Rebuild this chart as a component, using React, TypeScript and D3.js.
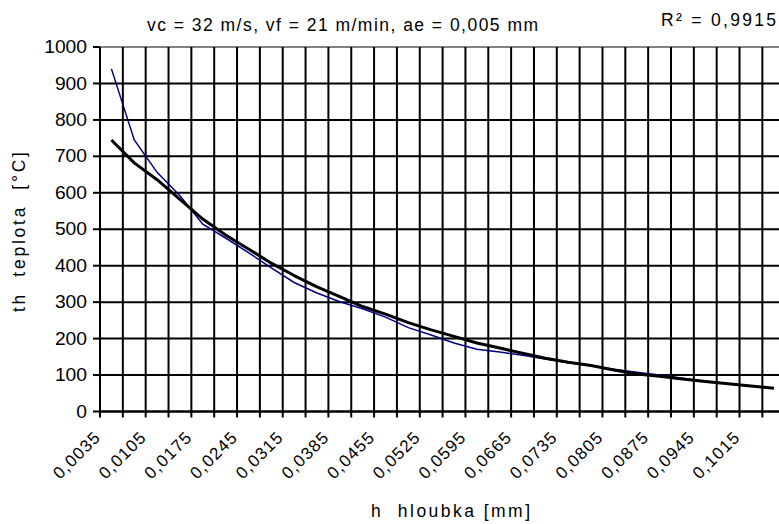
import React from "react";
import * as d3 from "d3";

// Depth categories h [mm]
const depths = [
  0.0035, 0.007, 0.0105, 0.014, 0.0175, 0.021, 0.0245, 0.028, 0.0315, 0.035,
  0.0385, 0.042, 0.0455, 0.049, 0.0525, 0.056, 0.0595, 0.063, 0.0665, 0.07,
  0.0735, 0.077, 0.0805, 0.084, 0.0875, 0.091, 0.0945, 0.098, 0.1015, 0.105,
];

// Measured temperature th [°C] (thin blue line)
const measured = [
  940, 745, 656, 592, 514, 476, 436, 394, 354, 325,
  301, 282, 259, 230, 210, 188, 171, 163, 154, 144,
  134, 126, 116, 108, 100, 91, 83, 76, 70, 63,
];

// Regression temperature th [°C] (thick black line)
const fitted = [
  745, 682, 636, 582, 528, 484, 446, 407, 373, 342,
  315, 288, 267, 244, 224, 206, 188, 174, 160, 146,
  135, 126, 114, 103, 97, 89, 82, 76, 70, 64,
];

const yTicks = [0, 100, 200, 300, 400, 500, 600, 700, 800, 900, 1000];

const titleText = "vc = 32 m/s, vf = 21 m/min, ae = 0,005 mm";
const r2Text = "R² = 0,9915";
const yTitle = "th  teplota  [°C]";
const xTitle = "h  hloubka [mm]";

const W = 779;
const H = 524;
const left = 100;
const top = 47;
const bottom = 411.5;
const right = 785.2;
const font = "'Liberation Sans', Arial, sans-serif";
const fs = 17.5;

export default function App() {
  const x = d3
    .scaleBand<number>()
    .domain(depths.map((_, i) => i))
    .range([left, right])
    .padding(0);
  const y = d3.scaleLinear().domain([0, 1000]).range([bottom, top]);
  const bw = x.bandwidth();

  const line = (vals: number[]) =>
    d3
      .line<number>()
      .x((_, i) => (x(i) as number) + bw / 2)
      .y((v) => y(v))(vals) as string;

  const fmt = (v: number) => String(+v.toFixed(4)).replace(".", ",");

  const boundaries = d3.range(depths.length + 1).map((i) => left + i * bw);

  return (
    <svg
      width={W}
      height={H}
      style={{ position: "absolute", left: 0, top: 0, background: "#fff" }}
      fontFamily={font}
    >
      <rect x={0} y={0} width={W} height={H} fill="#fff" />
      {/* horizontal grid */}
      {yTicks.map((t) => (
        <line
          key={"h" + t}
          x1={left}
          x2={right}
          y1={y(t)}
          y2={y(t)}
          stroke={t === 1000 ? "#808080" : "#000"}
          strokeWidth={2}
        />
      ))}
      {/* vertical grid at category boundaries */}
      {boundaries.slice(1).map((bx, i) => (
        <line key={"v" + i} x1={bx} x2={bx} y1={top} y2={bottom} stroke="#000" strokeWidth={2} />
      ))}
      {/* axes */}
      <line x1={left} x2={left} y1={top} y2={bottom} stroke="#000" strokeWidth={2} />
      <line x1={left} x2={right} y1={bottom} y2={bottom} stroke="#000" strokeWidth={2} />
      {yTicks.map((t) => (
        <g key={"yt" + t}>
          <line x1={left - 7} x2={left} y1={y(t)} y2={y(t)} stroke="#000" strokeWidth={2} />
          <text
            transform={`translate(87,${y(t)}) scale(1.1,1)`}
            dy="0.35em"
            textAnchor="end"
            fontSize={fs}
            fill="#000"
          >
            {t}
          </text>
        </g>
      ))}
      {boundaries.map((bx, i) => (
        <line key={"xt" + i} x1={bx} x2={bx} y1={bottom} y2={bottom + 6} stroke="#000" strokeWidth={2} />
      ))}
      {depths.map((d, i) =>
        i % 2 === 0 ? (
          <text
            key={"xl" + i}
            transform={`translate(${(x(i) as number) + 1},${439}) rotate(-45)`}
            textAnchor="end"
            fontSize={17}
            textLength={58}
            lengthAdjust="spacing"
            fill="#000"
          >
            {fmt(d)}
          </text>
        ) : null
      )}
      {/* series */}
      <path d={line(measured)} fill="none" stroke="#000080" strokeWidth={1.5} />
      <path d={line(fitted)} fill="none" stroke="#000" strokeWidth={3} strokeLinejoin="round" />
      {/* titles */}
      <text x={147} y={31} fontSize={fs} textLength={391} lengthAdjust="spacing" fill="#000">
        {titleText}
      </text>
      <text x={661} y={26} fontSize={fs} textLength={115} lengthAdjust="spacing" fill="#000">
        {r2Text}
      </text>
      <text
        transform={`translate(25,${312}) rotate(-90)`}
        fontSize={fs}
        textLength={160}
        lengthAdjust="spacing"
        fill="#000"
        style={{ whiteSpace: "pre" }}
      >
        {yTitle}
      </text>
      <text
        x={371}
        y={517}
        fontSize={fs}
        textLength={159}
        lengthAdjust="spacing"
        fill="#000"
        style={{ whiteSpace: "pre" }}
      >
        {xTitle}
      </text>
    </svg>
  );
}
